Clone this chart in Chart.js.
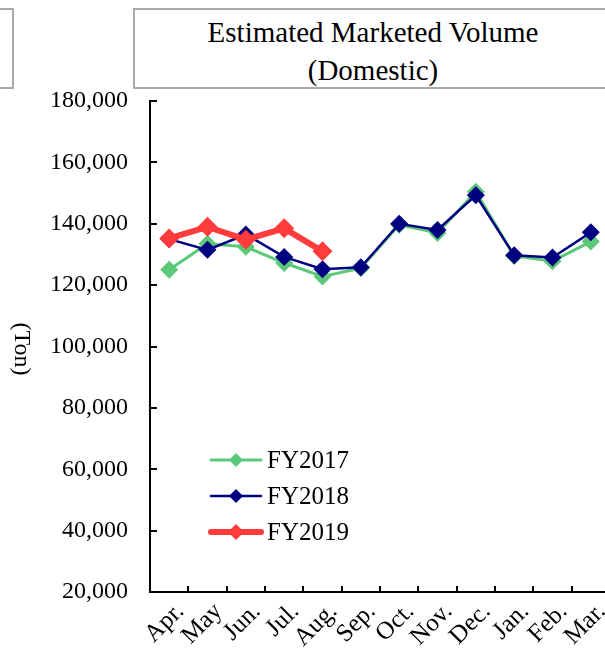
<!DOCTYPE html>
<html>
<head>
<meta charset="utf-8">
<script src="https://cdn.jsdelivr.net/npm/chart.js@4/dist/chart.umd.min.js"></script>
<style>
  html, body { margin: 0; padding: 0; background: #fff; overflow: hidden; }
  #wrap { position: relative; width: 605px; height: 656px; overflow: hidden; }
  #chart { position: absolute; left: 0; top: 0; }
  .box { position: absolute; box-sizing: border-box; border: 2px solid #a9a9a9; background: #fff; }
  #title {
    left: 133px; top: 8px; width: 480px; height: 81px;
    font-family: 'Liberation Serif', 'Times New Roman', serif; font-size: 29px;
    color: #000; text-align: center; line-height: 38px; padding-top: 3px;
  }
  #side { left: -20px; top: 8px; width: 34px; height: 81px; }
</style>
</head>
<body>
<div id="wrap">
  <canvas id="chart" width="620" height="656"></canvas>
  <div class="box" id="side"></div>
  <div class="box" id="title">Estimated Marketed Volume<br>(Domestic)</div>
</div>
<script>
// Chart data
const months = ['Apr.', 'May', 'Jun.', 'Jul.', 'Aug.', 'Sep.', 'Oct.', 'Nov.', 'Dec.', 'Jan.', 'Feb.', 'Mar.'];
const fy2017 = [125000, 133500, 132500, 127200, 122800, 125500, 139700, 137000, 150400, 129500, 127800, 134200];
const fy2018 = [135000, 131500, 136500, 129200, 125200, 125800, 140000, 138000, 149300, 129700, 129000, 137200];
const fy2019 = [135200, 139000, 134800, 138500, 131000];
const yMin = 20000;
const yMax = 180000;
const yStep = 20000;
const yTitle = '(Ton)';

const serif = "'Liberation Serif', 'Times New Roman', serif";

// inward tick marks on both axes
const tickMarks = {
  id: 'tickMarks',
  afterDraw(chart) {
    const { ctx, chartArea: a, scales: { x, y } } = chart;
    ctx.save();
    ctx.strokeStyle = '#000';
    ctx.lineWidth = 2;
    ctx.beginPath();
    y.ticks.forEach(t => {
      const py = Math.round(y.getPixelForValue(t.value));
      ctx.moveTo(a.left, py);
      ctx.lineTo(a.left + 7, py);
    });
    for (let i = 1; i < months.length; i++) {
      const px = Math.round((x.getPixelForValue(i - 1) + x.getPixelForValue(i)) / 2);
      ctx.moveTo(px, a.bottom);
      ctx.lineTo(px, a.bottom - 6);
    }
    ctx.stroke();

    // y axis title, turned clockwise
    ctx.translate(21, 349);
    ctx.rotate(Math.PI / 2);
    ctx.fillStyle = '#000';
    ctx.font = '24px ' + serif;
    ctx.textAlign = 'center';
    ctx.textBaseline = 'middle';
    ctx.fillText(yTitle, 0, 0);
    ctx.restore();
  }
};

// legend drawn inside the plot: line + diamond + label
const innerLegend = {
  id: 'innerLegend',
  afterDraw(chart) {
    const { ctx } = chart;
    const rows = [460, 496, 532];
    ctx.save();
    chart.data.datasets.forEach((ds, i) => {
      const yy = rows[i];
      ctx.strokeStyle = ds.borderColor;
      ctx.lineWidth = ds.borderWidth;
      ctx.lineCap = 'round';
      ctx.beginPath();
      ctx.moveTo(211, yy);
      ctx.lineTo(261, yy);
      ctx.stroke();
      const r = ds.pointRadius - 2;
      ctx.fillStyle = ds.borderColor;
      ctx.beginPath();
      ctx.moveTo(236 - r, yy);
      ctx.lineTo(236, yy - r);
      ctx.lineTo(236 + r, yy);
      ctx.lineTo(236, yy + r);
      ctx.closePath();
      ctx.fill();
      ctx.fillStyle = '#000';
      ctx.font = '25px ' + serif;
      ctx.textBaseline = 'middle';
      ctx.fillText(ds.label, 267, yy + 1);
    });
    ctx.restore();
  }
};

const ctx = document.getElementById('chart').getContext('2d');
new Chart(ctx, {
  type: 'line',
  data: {
    labels: months,
    datasets: [
      {
        label: 'FY2017', data: fy2017, order: 3,
        borderColor: '#5cc978', backgroundColor: '#5cc978', borderWidth: 3,
        pointStyle: 'rectRot', pointRadius: 9, pointBorderWidth: 0
      },
      {
        label: 'FY2018', data: fy2018, order: 2,
        borderColor: '#000080', backgroundColor: '#000080', borderWidth: 2.5,
        pointStyle: 'rectRot', pointRadius: 9, pointBorderWidth: 0
      },
      {
        label: 'FY2019', data: fy2019, order: 1,
        borderColor: '#ff3b3b', backgroundColor: '#ff3b3b', borderWidth: 6,
        pointStyle: 'rectRot', pointRadius: 10, pointBorderWidth: 0
      }
    ]
  },
  options: {
    responsive: false,
    animation: false,
    layout: { padding: { top: 101, right: 7, left: 0, bottom: 0 } },
    elements: { line: { tension: 0 } },
    plugins: {
      legend: { display: false },
      tooltip: { enabled: false }
    },
    scales: {
      x: {
        offset: true,
        grid: { display: false, drawTicks: false },
        border: { display: true, color: '#000', width: 2 },
        ticks: {
          color: '#000', font: { family: serif, size: 25 },
          maxRotation: 45, minRotation: 45, padding: 5, labelOffset: 11, autoSkip: false
        },
        afterFit(scale) { scale.height = 64; }
      },
      y: {
        min: yMin, max: yMax,
        grid: { display: false, drawTicks: false },
        border: { display: true, color: '#000', width: 2 },
        ticks: {
          stepSize: yStep, color: '#000', padding: 22,
          font: { family: serif, size: 24 }
        },
        afterFit(scale) { scale.width = 150; }
      }
    }
  },
  plugins: [tickMarks, innerLegend]
});
</script>
</body>
</html>
